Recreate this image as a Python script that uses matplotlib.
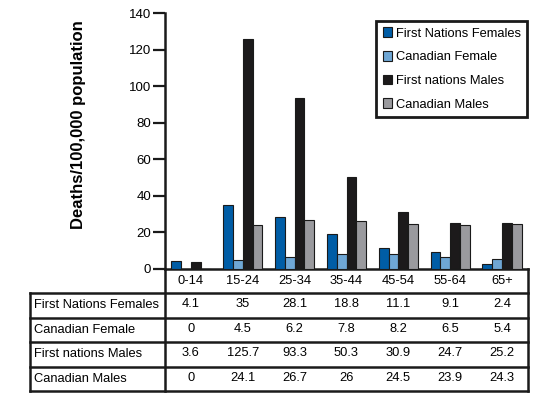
import numpy as np
import matplotlib.pyplot as plt

plt.rcParams['font.family'] = ['Liberation Sans', 'DejaVu Sans']

age_groups = ['0-14', '15-24', '25-34', '35-44', '45-54', '55-64', '65+']
series_names = ['First Nations Females', 'Canadian Female',
                'First nations Males', 'Canadian Males']
fn_females = [4.1, 35, 28.1, 18.8, 11.1, 9.1, 2.4]
can_female = [0, 4.5, 6.2, 7.8, 8.2, 6.5, 5.4]
fn_males = [3.6, 125.7, 93.3, 50.3, 30.9, 24.7, 25.2]
can_males = [0, 24.1, 26.7, 26, 24.5, 23.9, 24.3]
series_values = [fn_females, can_female, fn_males, can_males]
colors = ['#005da6', '#6fa7d5', '#1c1a1b', '#9a9a9e']

W, H = 560, 397
fig = plt.figure(figsize=(W / 100, H / 100), dpi=100)
fs = 9.3

# main chart area
x0, x1 = 165, 528
y_top, y_zero = 13.3, 268.5
ax = fig.add_axes([x0 / W, 1 - y_zero / H, (x1 - x0) / W, (y_zero - y_top) / H])

x = np.arange(len(age_groups))
bw = 0.19
for i, (vals, c) in enumerate(zip(series_values, colors)):
    ax.bar(x + (i - 1.5) * bw, vals, bw, color=c, edgecolor='#1a1a1a',
           linewidth=0.8, label=series_names[i], zorder=3)

ax.set_xlim(-0.5, len(age_groups) - 0.5)
ax.set_ylim(0, 140)
ax.set_yticks(range(0, 141, 20))
ax.set_xticks([])
for s in ['top', 'right']:
    ax.spines[s].set_visible(False)
for s in ['left', 'bottom']:
    ax.spines[s].set_linewidth(1.8)
    ax.spines[s].set_color('#1a1a1a')
ax.tick_params(axis='y', length=8.5, width=1.6, color='#1a1a1a',
               labelsize=9.5, pad=1.5)
ax.set_ylabel('Deaths/100,000 population', fontsize=12, fontweight='bold')
ax.yaxis.set_label_coords((86 - x0) / (x1 - x0), (y_zero - 125) / (y_zero - y_top))

leg = ax.legend(loc='upper right', bbox_to_anchor=(527 / W, 1 - 21 / H),
                bbox_transform=fig.transFigure, borderaxespad=0,
                fontsize=fs, frameon=True, fancybox=False, framealpha=1,
                handlelength=0.75, handleheight=0.75, handletextpad=0.25,
                labelspacing=0.88, borderpad=0.5)
leg.get_frame().set_edgecolor('#1a1a1a')
leg.get_frame().set_linewidth(2)

# data table below the chart
t_left, t_bottom = 30, 391
unit = (x1 - x0) / len(age_groups)
lab_units = (x0 - t_left) / unit
tax = fig.add_axes([t_left / W, 1 - t_bottom / H, (x1 - t_left) / W, (t_bottom - y_zero) / H])
tax.set_xlim(-0.5 - lab_units, len(age_groups) - 0.5)
tax.set_ylim(5, 0)
tax.axis('off')

lc = '#1a1a1a'
lw = 1.8
xl = -0.5 - lab_units
xr = len(age_groups) - 0.5
for r in range(1, 6):
    tax.plot([xl, xr], [r, r], color=lc, lw=lw, clip_on=False,
             solid_capstyle='projecting')
tax.plot([-0.5, -0.5], [0, 5], color=lc, lw=lw, clip_on=False)
tax.plot([xr, xr], [0, 5], color=lc, lw=lw, clip_on=False,
         solid_capstyle='projecting')
tax.plot([xl, xl], [1, 5], color=lc, lw=lw, clip_on=False,
         solid_capstyle='projecting')

for j, g in enumerate(age_groups):
    tax.text(j, 0.5, g, ha='center', va='center', fontsize=fs)
for r, (name, vals) in enumerate(zip(series_names, series_values)):
    tax.text(xl + 0.07, r + 1.5, name, ha='left', va='center', fontsize=fs)
    for j, v in enumerate(vals):
        tax.text(j, r + 1.45, f'{v:g}', ha='center', va='center', fontsize=fs)

fig.savefig('out.png', dpi=100)
